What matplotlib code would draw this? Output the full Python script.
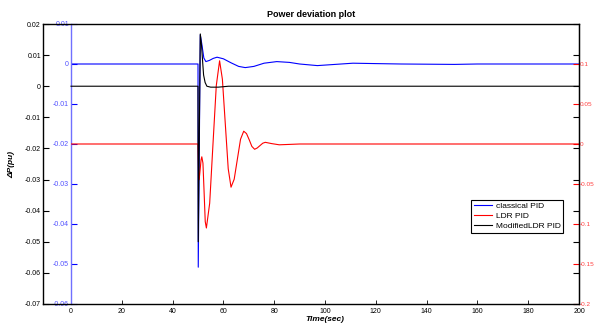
import numpy as np
import matplotlib
matplotlib.use('Agg')
import matplotlib.pyplot as plt
from matplotlib.ticker import FuncFormatter

plt.rcParams['font.family'] = ['Liberation Sans', 'DejaVu Sans']

# classical PID (blue axis)
t_cls = [0, 50, 50.1, 50.9, 51.5, 52.3, 53.1, 54.5, 56, 57.5, 60, 63, 66, 68.6, 72,
         76, 81, 86, 90, 97, 104, 111, 120, 130, 151, 160, 200]
v_cls = [0, 0, -0.0508, 0.0073, 0.005, 0.0015, 0.0006, 0.0009, 0.0014, 0.0017, 0.0013,
         0.0003, -0.0006, -0.0009, -0.0006, 0.0002, 0.0006, 0.0004, 0.0, -0.0004, -0.0001,
         0.0002, 0.0001, 0.0, -0.0001, 0.0, 0.0]

# LDR PID (red axis)
t_ldr = [0, 50, 50.3, 50.6, 50.9, 51.2, 51.5, 51.95, 52.4, 52.85, 53.3, 54.6, 55.9, 57.2,
         58.5, 59.6, 60.75, 61.9, 63, 64.25, 65.5, 66.75, 68, 69.1, 70.2, 71.2, 72.3,
         73.3, 74.4, 75.5, 76.5, 79, 82, 86, 90, 200]
v_ldr = [0, 0, -0.045, -0.040, -0.030, -0.020, -0.016, -0.024, -0.060, -0.097, -0.105,
         -0.074, 0.0, 0.073, 0.104, 0.081, 0.025, -0.031, -0.054, -0.044, -0.019, 0.006,
         0.016, 0.013, 0.005, -0.003, -0.0066, -0.005, -0.002, 0.001, 0.0021, 0.0005,
         -0.001, -0.0005, 0.0, 0.0]

# ModifiedLDR PID (black axis)
t_mod = [0, 50, 50.1, 50.9, 51.4, 51.9, 52.2, 52.8, 53.5, 55, 58, 62, 200]
v_mod = [0, 0, -0.05, 0.0168, 0.013, 0.007, 0.0036, 0.0012, 0.0, -0.0003, -0.0003, 0.0, 0.0]

x_ticks = [0, 20, 40, 60, 80, 100, 120, 140, 160, 180, 200]
k_ticks = [-0.07, -0.06, -0.05, -0.04, -0.03, -0.02, -0.01, 0, 0.01, 0.02]
b_ticks = [-0.06, -0.05, -0.04, -0.03, -0.02, -0.01, 0, 0.01]
r_ticks = [-0.2, -0.15, -0.1, -0.05, 0, 0.05, 0.1]

W, H = 594, 329
fig = plt.figure(figsize=(W / 100, H / 100), dpi=100)

fmt = FuncFormatter(lambda v, p: '%g' % (round(v, 4) + 0.0))
fs = 5

# blue axis (carries the time axis)
axb = fig.add_axes([71 / W, 25 / H, 508 / W, 280 / H])
axb.plot(t_cls, v_cls, color='#0000ff', lw=0.8, label='classical PID')
axb.set_xlim(0, 200)
axb.set_ylim(-0.06, 0.01)
axb.set_xticks(x_ticks)
axb.set_yticks(b_ticks)
axb.yaxis.set_major_formatter(fmt)
for s in ['top', 'right', 'bottom']:
    axb.spines[s].set_visible(False)
axb.spines['left'].set_color('#7070ff')
axb.spines['left'].set_linewidth(1.0)
axb.tick_params(axis='y', direction='in', length=4, width=0.8, colors='#0000ff',
                labelcolor='#5050ff', labelsize=fs, pad=1.5)
axb.tick_params(axis='x', direction='in', length=3, width=0.6, colors='black',
                labelsize=fs, pad=3)
axb.set_xlabel('Time(sec)', fontsize=6, fontweight='bold', style='italic', labelpad=0.5)

# red axis on the right
axr = axb.twinx()
axr.plot(t_ldr, v_ldr, color='#ff0000', lw=0.8, label='LDR PID')
axr.set_ylim(-0.2, 0.15)
axr.set_yticks(r_ticks)
axr.yaxis.set_major_formatter(fmt)
for s in ['top', 'left', 'bottom']:
    axr.spines[s].set_visible(False)
axr.spines['right'].set_color('black')
axr.tick_params(axis='y', direction='in', length=4, width=0.8, colors='#ff0000',
                labelcolor='#ff4040', labelsize=4.6, pad=0.6)

# black outer axis
x0 = -(71 - 43) / (508 / 200)
axk = fig.add_axes([43 / W, 25 / H, 536 / W, 280 / H])
axk.patch.set_visible(False)
axk.plot(t_mod, v_mod, color='black', lw=0.8, label='ModifiedLDR PID')
axk.set_xlim(x0, 200)
axk.set_ylim(-0.07, 0.02)
axk.set_yticks(k_ticks)
axk.yaxis.set_major_formatter(fmt)
axk.set_xticks([])
for s in axk.spines.values():
    s.set_linewidth(1.0)
axk.tick_params(axis='y', direction='in', length=4, width=0.8, labelsize=fs, pad=1.5,
                right=True)
axk.set_ylabel('ΔP(pu)', fontsize=6, fontweight='bold', style='italic', labelpad=7)
axk.set_title('Power deviation plot', fontsize=6.5, fontweight='bold', pad=5)

handles = [axb.get_lines()[0], axr.get_lines()[0], axk.get_lines()[0]]
leg = axk.legend(handles, [h.get_label() for h in handles], loc='upper right',
                 bbox_to_anchor=(563 / W, 1 - 200 / H), bbox_transform=fig.transFigure,
                 fontsize=6, fancybox=False, framealpha=1, edgecolor='black',
                 handlelength=2.2, handletextpad=0.4, borderpad=0.3, labelspacing=0.25,
                 borderaxespad=0)
leg.get_frame().set_linewidth(0.8)

fig.savefig('out.png', dpi=100)
